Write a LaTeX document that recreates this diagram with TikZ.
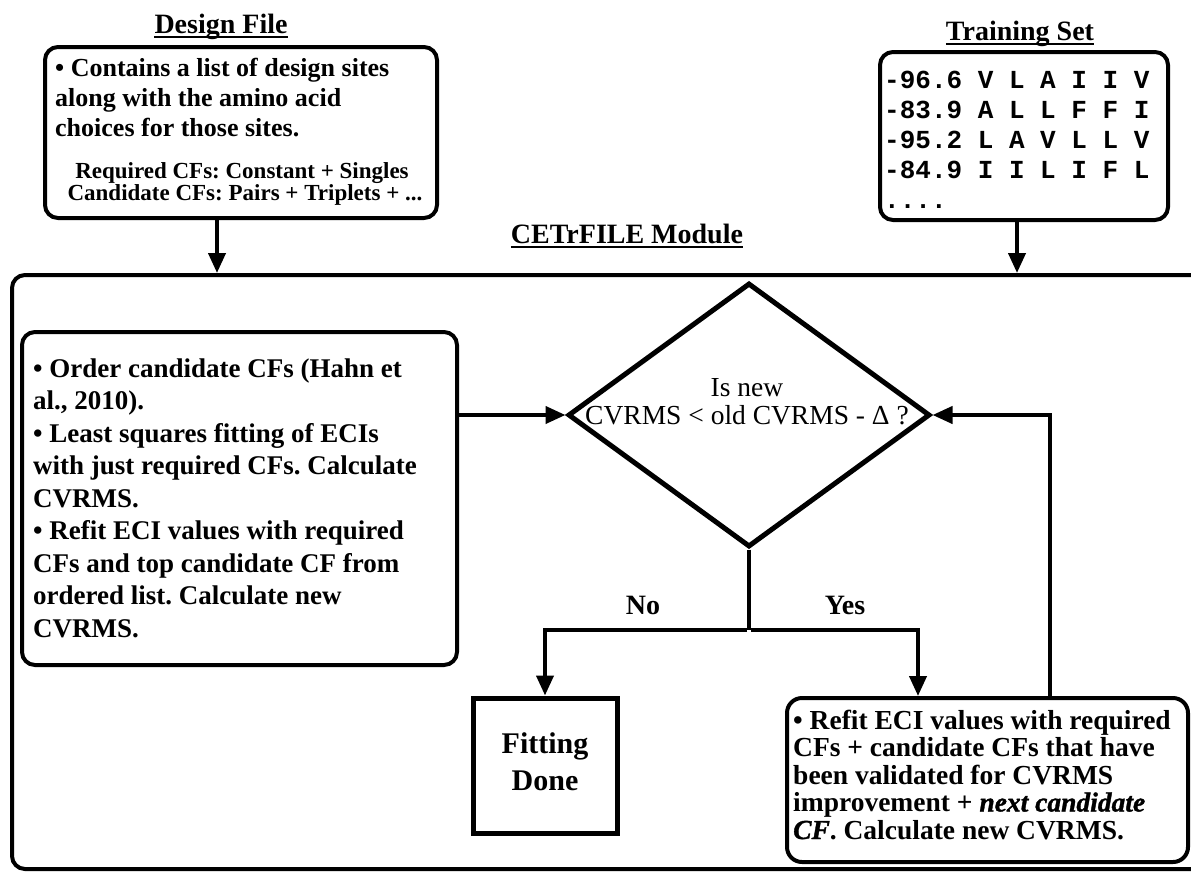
\documentclass[tikz,border=0pt]{standalone}
\usepackage{fontspec}
\setmainfont{Liberation Serif}
\setmonofont{Liberation Mono}
\newfontfamily\bifont{Liberation Serif Bold Italic}[FakeBold=1.2]
\usetikzlibrary{arrows.meta,shapes.geometric,calc}
\frenchspacing
\begin{document}
\begin{tikzpicture}[x=1pt,y=-1pt,
  box/.style={draw,line width=4pt,rounded corners=13pt,inner sep=0pt},
  conn/.style={line width=4pt},
  arr/.style={conn,-{Triangle[length=20pt,width=17pt]}},
  txt/.style={anchor=base west,inner sep=0pt,font=\fontsize{27}{32}\selectfont\bfseries},
  smalltxt/.style={anchor=base,inner sep=0pt,font=\fontsize{23}{24}\selectfont\bfseries},
  monotxt/.style={anchor=base west,inner sep=0pt,font=\fontsize{26}{30}\selectfont\ttfamily\bfseries},
  titletxt/.style={anchor=base,inner sep=0pt,font=\fontsize{28}{30}\selectfont\bfseries},
  dectxt/.style={anchor=base,inner sep=0pt,font=\fontsize{27.5}{28}\selectfont},
  lbl/.style={inner sep=0pt,font=\fontsize{28}{30}\selectfont\bfseries},
  uline/.style={line width=2pt}
]
\fill[white] (0,0) rectangle (1191,873);
\useasboundingbox (0,0) rectangle (1191,873);

% titles
\node[titletxt] (tdesign) at (221,33) {Design File};
\draw[uline] ([yshift=-4pt]tdesign.base west) -- ([yshift=-4pt]tdesign.base east);
\node[titletxt] (ttrain) at (1020,40) {Training Set};
\draw[uline] ([yshift=-4pt]ttrain.base west) -- ([yshift=-4pt]ttrain.base east);
\node[titletxt] (tmodule) at (627,243) {CETrFILE Module};
\draw[uline] ([yshift=-4pt]tmodule.base west) -- ([yshift=-4pt]tmodule.base east);

% design file box
\node[box,minimum width=392pt,minimum height=171pt] (design) at (241,132.5) {};
\node[txt,font=\fontsize{26}{30}\selectfont\bfseries] (dl0) at (55,76) {• Contains a list of design sites};
\node[txt,font=\fontsize{26}{30}\selectfont\bfseries] (dl1) at (55,106) {along with the amino acid};
\node[txt,font=\fontsize{26}{30}\selectfont\bfseries] (dl2) at (55,136) {choices for those sites.};
\node[smalltxt] (dreq) at (242,178) {Required CFs: Constant + Singles};
\node[smalltxt] (dcand) at (245,200) {Candidate CFs: Pairs + Triplets + \char46\char46\char46};

% training set box
\node[box,minimum width=288pt,minimum height=168pt] (train) at (1024,136) {};
\node[monotxt] (tl0) at (884,88) {-96.6 V L A I I V};
\node[monotxt] (tl1) at (884,118) {-83.9 A L L F F I};
\node[monotxt] (tl2) at (884,148) {-95.2 L A V L L V};
\node[monotxt] (tl3) at (884,178) {-84.9 I I L I F L};
\node[monotxt] (tl4) at (884,208) {\char46\char46\char46\char46};

% module (right side runs off the page, as in the reference)
\node[box,minimum width=1200pt,minimum height=594pt] (module) at (612,572) {};

% left box
\node[box,minimum width=435pt,minimum height=333pt] (left) at (239.5,498.5) {};
\node[txt] (ll0) at (33,377) {• Order candidate CFs (Hahn et};
\node[txt] (ll1) at (33,409.5) {al., 2010).};
\node[txt] (ll2) at (33,442) {• Least squares fitting of ECIs};
\node[txt] (ll3) at (33,474.5) {with just required CFs. Calculate};
\node[txt] (ll4) at (33,507) {CVRMS.};
\node[txt] (ll5) at (33,539.5) {• Refit ECI values with required};
\node[txt] (ll6) at (33,572) {CFs and top candidate CF from};
\node[txt] (ll7) at (33,604.5) {ordered list. Calculate new};
\node[txt] (ll8) at (33,637) {CVRMS.};

% decision
\node[draw,diamond,line width=5pt,minimum width=362pt,minimum height=264pt,inner sep=0pt] (dec) at (749,415) {};
\node[dectxt] (dq1) at (747,396) {Is new};
\node[dectxt] (dq2) at (747,424) {CVRMS < old CVRMS - Δ ?};

% fitting done
\node[draw,line width=5pt,minimum width=144pt,minimum height=135pt,inner sep=0pt] (fit) at (545,765.5) {};
\node[titletxt,font=\fontsize{30}{30}\selectfont\bfseries] (fit1) at (545,753) {Fitting};
\node[titletxt,font=\fontsize{30}{30}\selectfont\bfseries] (fit2) at (545,790) {Done};

% refit box
\node[box,rounded corners=15pt,minimum width=401pt,minimum height=164pt] (refit) at (987.5,780) {};
\node[txt,font=\fontsize{27.5}{28}\selectfont\bfseries] (rl0) at (793,729) {• Refit ECI values with required};
\node[txt,font=\fontsize{27.5}{28}\selectfont\bfseries] (rl1) at (793,756.5) {CFs + candidate CFs that have};
\node[txt,font=\fontsize{27.5}{28}\selectfont\bfseries] (rl2) at (793,784) {been validated for CVRMS};
\node[txt,font=\fontsize{27.5}{28}\selectfont\bfseries] (rl3) at (793,811.5) {improvement + {\bifont next candidate}};
\node[txt,font=\fontsize{27.5}{28}\selectfont\bfseries] (rl4) at (793,839) {{\bifont CF}. Calculate new CVRMS.};

% labels
\node[lbl] (no) at (643,605) {No};
\node[lbl] (yes) at (845,605) {Yes};

% connectors
\draw[arr] ([xshift=-24pt]design.south) -- ([xshift=-24pt]design.south |- module.north);
\draw[arr] ([xshift=-7pt]train.south) -- ([xshift=-7pt]train.south |- module.north);
\draw[arr] (left.east |- dec.west) -- (dec.west);
\draw[conn] (dec.south) -- ++(0,80) coordinate (br);
\draw[arr] ($(br)+(-2,0)$) -| (fit.north);
\draw[arr] ($(br)+(2,0)$) -| ([xshift=-69.5pt]refit.north);
\draw[arr] ([xshift=62.5pt]refit.north) |- (dec.east);
\end{tikzpicture}
\end{document}
